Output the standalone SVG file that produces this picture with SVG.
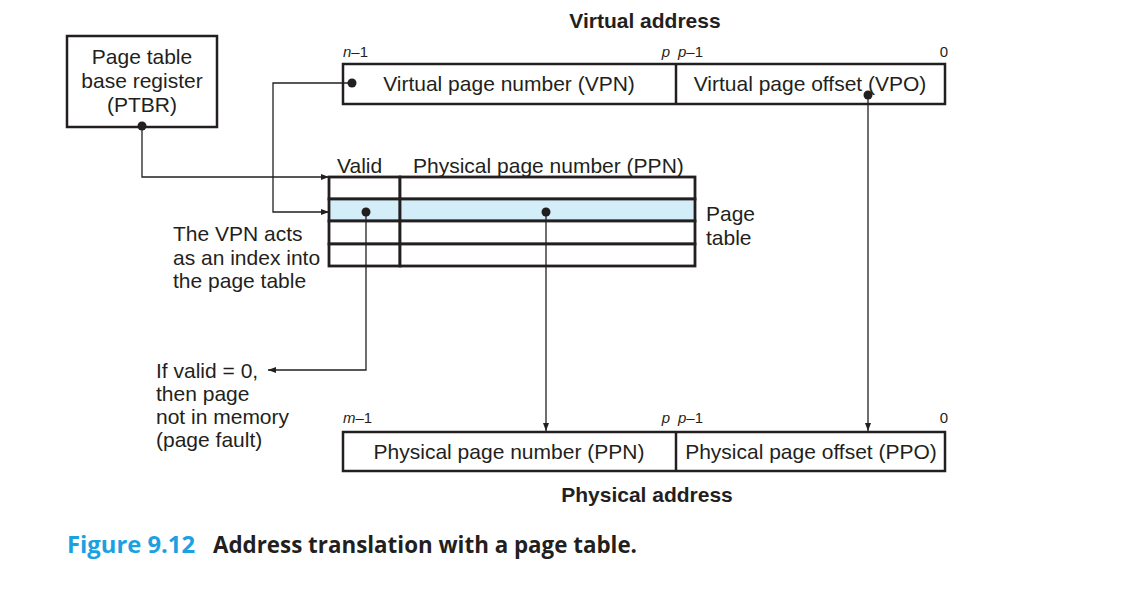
<svg xmlns="http://www.w3.org/2000/svg" width="1148" height="602" viewBox="0 0 1148 602">
<style>
.t{font-family:"Liberation Sans",Arial,sans-serif;font-size:21px;fill:#231f20}
.b{font-family:"Liberation Sans",Arial,sans-serif;font-size:21px;font-weight:bold;fill:#231f20}
.s{font-family:"Liberation Sans",Arial,sans-serif;font-size:15px;fill:#231f20}
.i{font-style:italic}
.box{fill:none;stroke:#231f20;stroke-width:2.5}
.cell{fill:#ffffff;stroke:#231f20;stroke-width:2.8}
.hl{fill:#d4eef9;stroke:#231f20;stroke-width:2.8}
.ln{fill:none;stroke:#231f20;stroke-width:1.3}
.dot{fill:#231f20}
.cap{font-family:"Open Sans","Liberation Sans",sans-serif;font-size:23px;font-weight:bold}
</style>
<defs>
<marker id="ah" markerUnits="userSpaceOnUse" markerWidth="10" markerHeight="8" refX="8" refY="3" orient="auto">
<path d="M0,0 L8,3 L0,6 Z" fill="#231f20"/>
</marker>
</defs>
<rect width="1148" height="602" fill="#ffffff"/>

<g id="ptbr">
<rect class="box" x="67" y="36" width="150" height="91"/>
<text class="t" x="142" y="64" text-anchor="middle">Page table</text>
<text class="t" x="142" y="88" text-anchor="middle">base register</text>
<text class="t" x="142" y="112" text-anchor="middle">(PTBR)</text>
</g>

<g id="virtual-address">
<text class="b" x="645" y="28" text-anchor="middle">Virtual address</text>
<text class="s" x="343" y="57"><tspan class="i">n</tspan>–1</text>
<text class="s i" x="670" y="57" text-anchor="end">p</text>
<text class="s" x="678" y="57"><tspan class="i">p</tspan>–1</text>
<text class="s" x="948" y="57" text-anchor="end">0</text>
<rect class="box" x="343" y="64" width="602" height="40"/>
<line class="box" x1="676" y1="64" x2="676" y2="104"/>
<text class="t" x="509" y="91" text-anchor="middle">Virtual page number (VPN)</text>
<text class="t" x="810" y="91" text-anchor="middle">Virtual page offset (VPO)</text>
</g>

<g id="page-table">
<text class="t" x="337" y="173">Valid</text>
<text class="t" x="413" y="173">Physical page number (PPN)</text>
<rect class="cell" x="329" y="177" width="71" height="22"/>
<rect class="cell" x="400" y="177" width="295" height="22"/>
<rect class="hl" x="329" y="199" width="71" height="22"/>
<rect class="hl" x="400" y="199" width="295" height="22"/>
<rect class="cell" x="329" y="221" width="71" height="23"/>
<rect class="cell" x="400" y="221" width="295" height="23"/>
<rect class="cell" x="329" y="244" width="71" height="22"/>
<rect class="cell" x="400" y="244" width="295" height="22"/>
<text class="t" x="706" y="221">Page</text>
<text class="t" x="706" y="245">table</text>
</g>

<g id="vpn-note">
<text class="t" x="173" y="241">The VPN acts</text>
<text class="t" x="173" y="265">as an index into</text>
<text class="t" x="173" y="288">the page table</text>
</g>

<g id="valid-note">
<text class="t" x="156" y="378">If valid = 0,</text>
<text class="t" x="156" y="401">then page</text>
<text class="t" x="156" y="424">not in memory</text>
<text class="t" x="156" y="447">(page fault)</text>
</g>

<g id="physical-address">
<text class="s" x="343" y="423"><tspan class="i">m</tspan>–1</text>
<text class="s i" x="670" y="423" text-anchor="end">p</text>
<text class="s" x="678" y="423"><tspan class="i">p</tspan>–1</text>
<text class="s" x="948" y="423" text-anchor="end">0</text>
<rect class="box" x="343" y="432" width="602" height="39"/>
<line class="box" x1="676" y1="432" x2="676" y2="471"/>
<text class="t" x="509" y="459" text-anchor="middle">Physical page number (PPN)</text>
<text class="t" x="811" y="459" text-anchor="middle">Physical page offset (PPO)</text>
<text class="b" x="647" y="502" text-anchor="middle">Physical address</text>
</g>

<g id="connectors">
<path class="ln" d="M142,126 V177 H329" marker-end="url(#ah)"/>
<path class="ln" d="M352,83 H273 V212 H329" marker-end="url(#ah)"/>
<path class="ln" d="M366,212 V370 H268" marker-end="url(#ah)"/>
<path class="ln" d="M546,212 V431" marker-end="url(#ah)"/>
<path class="ln" d="M868,95 V431" marker-end="url(#ah)"/>
<circle class="dot" cx="142" cy="126" r="4.5"/>
<circle class="dot" cx="352" cy="83" r="4.5"/>
<circle class="dot" cx="366" cy="212" r="4.5"/>
<circle class="dot" cx="546" cy="212" r="4.5"/>
<circle class="dot" cx="868" cy="95" r="4.5"/>
</g>

<g id="caption">
<text class="cap" x="67" y="553" fill="#1ba1e2" textLength="128" lengthAdjust="spacingAndGlyphs">Figure 9.12</text>
<text class="cap" x="213" y="553" fill="#231f20" textLength="424" lengthAdjust="spacingAndGlyphs">Address translation with a page table.</text>
</g>
</svg>
